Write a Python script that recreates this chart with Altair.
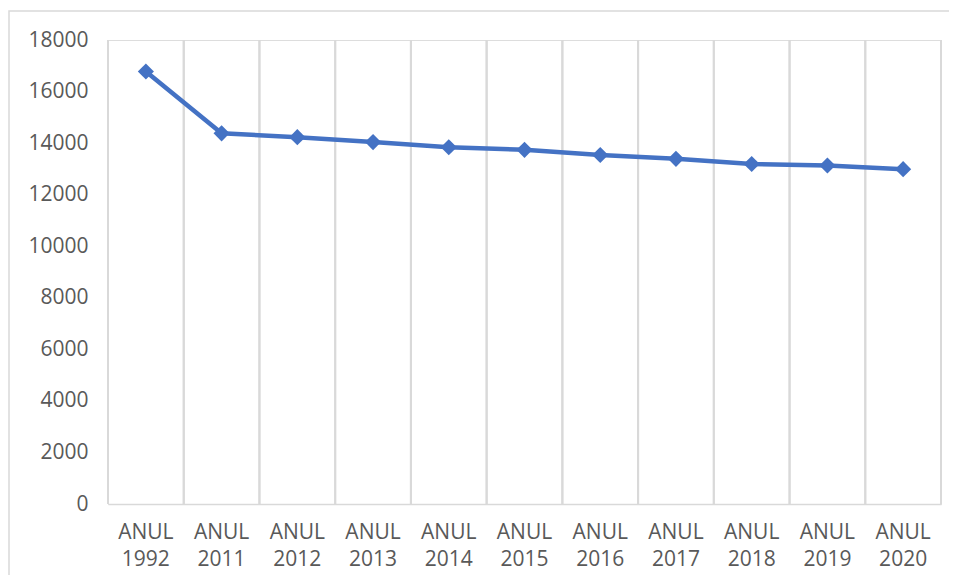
import altair as alt
import pandas as pd

categories = ["ANUL 1992", "ANUL 2011", "ANUL 2012", "ANUL 2013", "ANUL 2014", "ANUL 2015",
              "ANUL 2016", "ANUL 2017", "ANUL 2018", "ANUL 2019", "ANUL 2020"]
values = [16780, 14380, 14230, 14040, 13840, 13740, 13540, 13390, 13190, 13130, 12990]
y_ticks = [0, 2000, 4000, 6000, 8000, 10000, 12000, 14000, 16000, 18000]

df = pd.DataFrame({"label": categories, "value": values})

GRID = "#d9d9d9"
TEXT = "#595959"
FONT = "Open Sans"

xscale = alt.Scale(domain=categories, paddingInner=0, paddingOuter=0)
yscale = alt.Scale(domain=[0, 18000])

xaxis = alt.Axis(
    title=None, labelAngle=0, ticks=False, grid=False,
    domainColor=GRID, domainWidth=1.5,
    labelColor=TEXT, labelFontSize=21, labelFont=FONT,
    labelExpr="split(datum.label, ' ')", labelLineHeight=27,
    labelPadding=17,
)
yaxis = alt.Axis(
    title=None, values=y_ticks, format="d", ticks=False, domain=False, grid=False,
    labelColor=TEXT, labelFontSize=21, labelFont=FONT, labelPadding=20,
)

base = alt.Chart(df)

border = alt.Chart(pd.DataFrame({"a": [0]})).mark_rect(
    fill=None, stroke=GRID, strokeWidth=1.5
).encode(
    x=alt.value(-99), x2=alt.value(900), y=alt.value(-29), y2=alt.value(600)
)

grid_left = base.mark_rule(color=GRID, strokeWidth=2).encode(
    x=alt.X("label:N", scale=xscale, axis=xaxis, bandPosition=0),
    y=alt.datum(0, scale=yscale),
    y2=alt.datum(18000),
)
grid_right = base.mark_rule(color=GRID, strokeWidth=2).encode(
    x=alt.X("label:N", scale=xscale, bandPosition=1),
    y=alt.datum(0, scale=yscale),
    y2=alt.datum(18000),
)

line = base.mark_line(color="#4472C4", strokeWidth=4.5).encode(
    x=alt.X("label:N", scale=xscale, axis=xaxis),
    y=alt.Y("value:Q", scale=yscale, axis=yaxis),
)
points = base.mark_point(shape="diamond", filled=True, size=260, color="#4472C4", opacity=1).encode(
    x=alt.X("label:N", scale=xscale),
    y=alt.Y("value:Q", scale=yscale),
)

chart = alt.layer(border, grid_left, grid_right, line, points).properties(
    width=833, height=464,
    autosize=alt.AutoSizeParams(type="none"),
    padding={"left": 100, "top": 32, "right": 8, "bottom": 71},
).configure_view(stroke=None).configure(background="white")

chart.save("out.html", embed_options={"renderer": "svg", "actions": False})
